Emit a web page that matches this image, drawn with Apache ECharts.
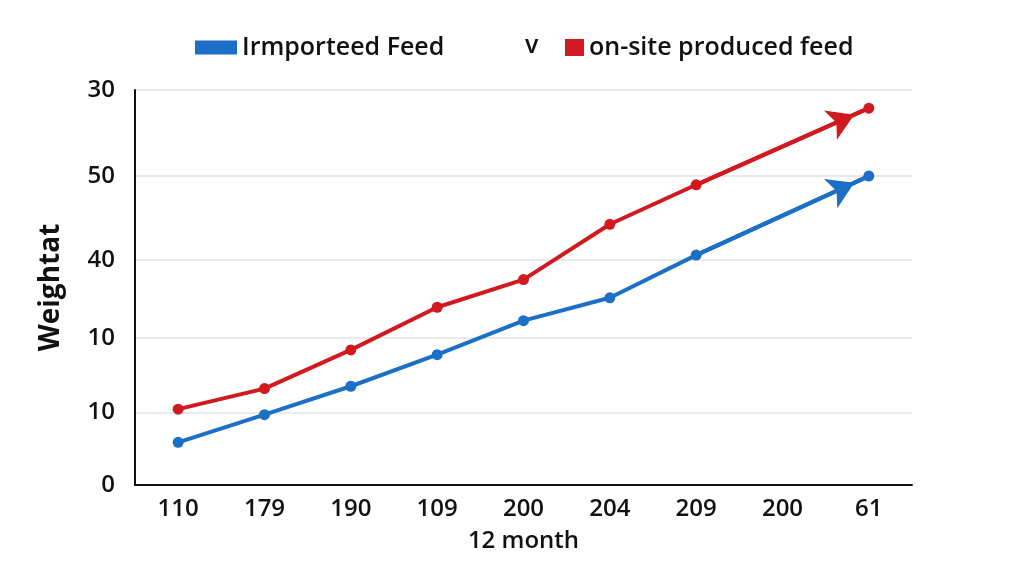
<!DOCTYPE html>
<html>
<head>
<meta charset="utf-8">
<script src="https://cdn.jsdelivr.net/npm/echarts@6/dist/echarts.min.js"></script>
<style>
  html, body { margin: 0; padding: 0; background: #fff; }
  #chart { width: 1024px; height: 563px; }
</style>
</head>
<body>
<div id="chart"></div>
<script>
// category labels on the x axis (as printed)
const months = ['110', '179', '190', '109', '200', '204', '209', '200', '61']

// y gridline positions (axis units) and the labels printed next to them
const yTicks = [0, 0.92, 1.86, 2.85, 3.91, 5]
const yLabels = ['0', '10', '10', '40', '50', '30']

// series values (null = no marker at that month)
const imported = [0.54, 0.89, 1.25, 1.65, 2.08, 2.37, 2.91, null, 3.91]
const onSite = [0.96, 1.22, 1.71, 2.25, 2.6, 3.3, 3.8, null, 4.77]

const blue = '#1c6fc6'
const red = '#d11a1f'
const font = '"Open Sans", "Noto Sans", sans-serif'

const chart = echarts.init(document.getElementById('chart'))

function lineSeries(name, data, color) {
  return {
    name: name,
    type: 'line',
    data: data,
    connectNulls: true,
    symbol: 'circle',
    symbolSize: 11,
    lineStyle: { color: color, width: 4 },
    itemStyle: { color: color },
    z: 3,
    markLine: {
      silent: true,
      symbol: ['none', 'arrow'],
      symbolSize: [24, 26],
      symbolOffset: [0, [0, 16]],
      label: { show: false },
      lineStyle: { color: color, width: 4, type: 'solid' },
      data: [[{ coord: [6, data[6]] }, { coord: [8, data[8]] }]],
    },
  }
}

const legendText = { fontSize: 25, fontWeight: 600, color: '#111', fontFamily: font }

const option = {
  animation: false,
  textStyle: { fontFamily: font },
  legend: [
    {
      data: ['Irmporteed Feed'],
      left: 190,
      top: 30,
      itemWidth: 42,
      itemHeight: 14,
      itemGap: 12,
      icon: 'rect',
      textStyle: legendText,
    },
    {
      data: ['on-site produced feed'],
      left: 560,
      top: 30,
      itemWidth: 19,
      itemHeight: 17,
      icon: 'rect',
      textStyle: legendText,
    },
  ],
  graphic: [
    {
      type: 'text',
      left: 525,
      top: 33,
      style: { text: 'v', fontSize: 25, fontWeight: 600, fill: '#111', fontFamily: font },
    },
  ],
  grid: { left: 135, right: 112, top: 90, bottom: 78 },
  xAxis: {
    type: 'category',
    data: months,
    boundaryGap: true,
    name: '12 month',
    nameLocation: 'middle',
    nameGap: 44,
    nameTextStyle: { fontSize: 24, fontWeight: 600, color: '#111', fontFamily: font },
    axisLine: { lineStyle: { color: '#111', width: 2 } },
    axisTick: { alignWithLabel: true, length: 6, lineStyle: { color: '#111', width: 2 } },
    axisLabel: { fontSize: 24, fontWeight: 600, color: '#111', margin: 12, fontFamily: font },
  },
  yAxis: {
    type: 'value',
    min: 0,
    max: 5,
    name: 'Weightat',
    nameLocation: 'middle',
    nameRotate: 90,
    nameGap: 70,
    nameTextStyle: { fontSize: 28, fontWeight: 700, color: '#111', fontFamily: font },
    axisLine: { show: true, lineStyle: { color: '#111', width: 2 } },
    axisTick: { show: false, customValues: yTicks },
    splitLine: { show: true, lineStyle: { color: '#e3e3e3', width: 1.5 } },
    axisLabel: {
      customValues: yTicks,
      fontSize: 24,
      fontWeight: 600,
      color: '#111',
      margin: 20,
      fontFamily: font,
      formatter: (v) => {
        const i = yTicks.indexOf(v)
        return i >= 0 ? yLabels[i] : ''
      },
    },
  },
  series: [
    lineSeries('Irmporteed Feed', imported, blue),
    lineSeries('on-site produced feed', onSite, red),
  ],
}

chart.setOption(option)
</script>
</body>
</html>
